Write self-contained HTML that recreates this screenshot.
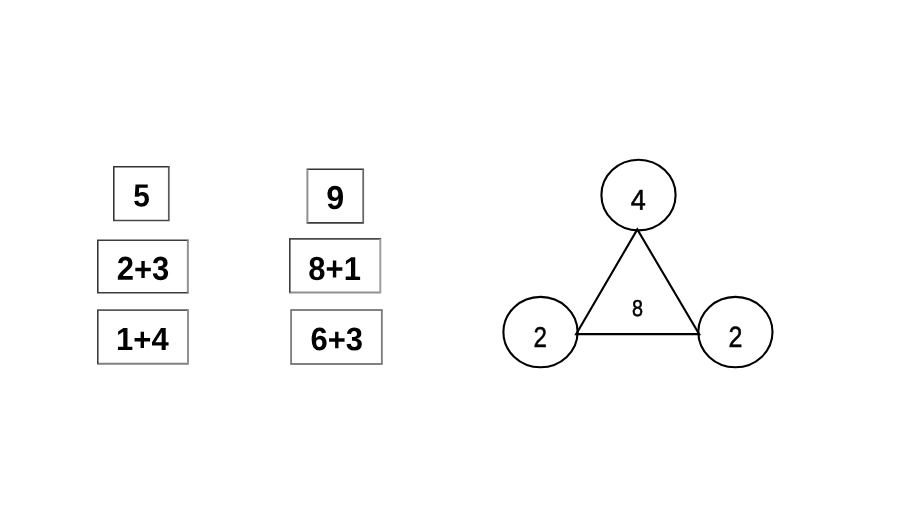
<!DOCTYPE html>
<html lang="en">
<head>
<meta charset="utf-8">
<title>Number bonds</title>
<style>
html,body{margin:0;padding:0;background:#fff;}
body{width:900px;height:506px;overflow:hidden;position:relative;font-family:"Liberation Sans",sans-serif;}
svg{position:absolute;left:0;top:0;display:block;filter:grayscale(1);}
.bx line{fill:none;}
.b{font-family:"Liberation Sans",sans-serif;font-weight:700;font-size:31px;fill:#000;text-anchor:middle;}
.r{font-family:"Liberation Sans",sans-serif;font-weight:400;font-size:28.8px;fill:#000;stroke:#000;stroke-width:0.5;text-anchor:middle;}
.s{font-family:"Liberation Sans",sans-serif;font-weight:400;font-size:23px;fill:#000;stroke:#000;stroke-width:0.5;text-anchor:middle;}
.c{fill:none;stroke:#000;stroke-width:2.1;}
.l{fill:none;stroke:#000;stroke-width:2.1;stroke-linejoin:miter;}
</style>
</head>
<body>
<svg width="900" height="506" viewBox="0 0 900 506">
  <rect x="0" y="0" width="900" height="506" fill="#fff"/>
  <g class="bx">
    <line x1="113.00" y1="166.65" x2="169.60" y2="166.65" stroke="#333" stroke-width="1.55"/>
    <line x1="113.00" y1="220.5" x2="169.60" y2="220.5" stroke="#4a4a4a" stroke-width="1.66"/>
    <line x1="113.8" y1="166.65" x2="113.8" y2="220.5" stroke="#333" stroke-width="1.55"/>
    <line x1="168.8" y1="166.65" x2="168.8" y2="220.5" stroke="#5a5a5a" stroke-width="1.73"/>
  </g>
  <g class="bx">
    <line x1="97.00" y1="240.25" x2="188.65" y2="240.25" stroke="#3c3c3c" stroke-width="1.59"/>
    <line x1="97.00" y1="292.7" x2="188.65" y2="292.7" stroke="#3c3c3c" stroke-width="1.59"/>
    <line x1="97.8" y1="240.25" x2="97.8" y2="292.7" stroke="#333" stroke-width="1.55"/>
    <line x1="187.85" y1="240.25" x2="187.85" y2="292.7" stroke="#909090" stroke-width="1.98"/>
  </g>
  <g class="bx">
    <line x1="97.00" y1="310.1" x2="188.80" y2="310.1" stroke="#5a5a5a" stroke-width="1.73"/>
    <line x1="97.00" y1="363.8" x2="188.80" y2="363.8" stroke="#808080" stroke-width="1.9"/>
    <line x1="97.8" y1="310.1" x2="97.8" y2="363.8" stroke="#3c3c3c" stroke-width="1.59"/>
    <line x1="188.0" y1="310.1" x2="188.0" y2="363.8" stroke="#909090" stroke-width="1.98"/>
  </g>
  <g class="bx">
    <line x1="306.60" y1="169.2" x2="364.00" y2="169.2" stroke="#333" stroke-width="1.55"/>
    <line x1="306.60" y1="222.9" x2="364.00" y2="222.9" stroke="#3c3c3c" stroke-width="1.59"/>
    <line x1="307.4" y1="169.2" x2="307.4" y2="222.9" stroke="#909090" stroke-width="1.98"/>
    <line x1="363.2" y1="169.2" x2="363.2" y2="222.9" stroke="#6a6a6a" stroke-width="1.8"/>
  </g>
  <g class="bx">
    <line x1="289.00" y1="238.9" x2="381.10" y2="238.9" stroke="#4a4a4a" stroke-width="1.66"/>
    <line x1="289.00" y1="292.6" x2="381.10" y2="292.6" stroke="#909090" stroke-width="1.98"/>
    <line x1="289.8" y1="238.9" x2="289.8" y2="292.6" stroke="#3c3c3c" stroke-width="1.59"/>
    <line x1="380.3" y1="238.9" x2="380.3" y2="292.6" stroke="#a0a0a0" stroke-width="2.05"/>
  </g>
  <g class="bx">
    <line x1="290.30" y1="310.0" x2="382.65" y2="310.0" stroke="#5a5a5a" stroke-width="1.73"/>
    <line x1="290.30" y1="363.95" x2="382.65" y2="363.95" stroke="#808080" stroke-width="1.9"/>
    <line x1="291.1" y1="310.0" x2="291.1" y2="363.95" stroke="#808080" stroke-width="1.9"/>
    <line x1="381.85" y1="310.0" x2="381.85" y2="363.95" stroke="#808080" stroke-width="1.9"/>
  </g>
  <text class="b" transform="translate(141.5 206.5) rotate(0.03) scale(0.96 1.035)">5</text>
  <text class="b" transform="translate(143 279.7) rotate(0.03) scale(1 1.07)">2<tspan dy="0.65">+</tspan><tspan dy="-0.65">3</tspan></text>
  <text class="b" transform="translate(142.4 350) rotate(0.03) scale(1 1.035)">1<tspan dy="0.4">+</tspan><tspan dy="-0.4">4</tspan></text>
  <text class="b" transform="translate(335.1 209) rotate(0.03) scale(1.04 1.07)">9</text>
  <text class="b" transform="translate(334.6 279.9) rotate(0.03) scale(1 1.07)">8<tspan dy="0.2">+</tspan><tspan dy="-0.2">1</tspan></text>
  <text class="b" transform="translate(336.7 350.2) rotate(0.03) scale(1 1.05)">6<tspan dy="0.5">+</tspan><tspan dy="-0.5">3</tspan></text>

  <ellipse class="c" cx="638.5" cy="195.05" rx="37.1" ry="35.35"/>
  <ellipse class="c" cx="540.5" cy="332.1" rx="37.1" ry="35.2"/>
  <ellipse class="c" cx="735.4" cy="332.1" rx="37.1" ry="35.2"/>
  <polygon class="l" points="637.3,229.4 576.1,334.1 699.2,334.1"/>
  <text class="r" transform="translate(638.3 209.8) rotate(0.03) scale(0.94 1)">4</text>
  <text class="r" transform="translate(540.2 346.9) rotate(0.03) scale(0.84 1)">2</text>
  <text class="r" transform="translate(735.4 346.9) rotate(0.03) scale(0.87 1.015)">2</text>
  <text class="s" transform="translate(637.5 315.7) rotate(0.03) scale(0.86 1)">8</text>
</svg>
</body>
</html>
